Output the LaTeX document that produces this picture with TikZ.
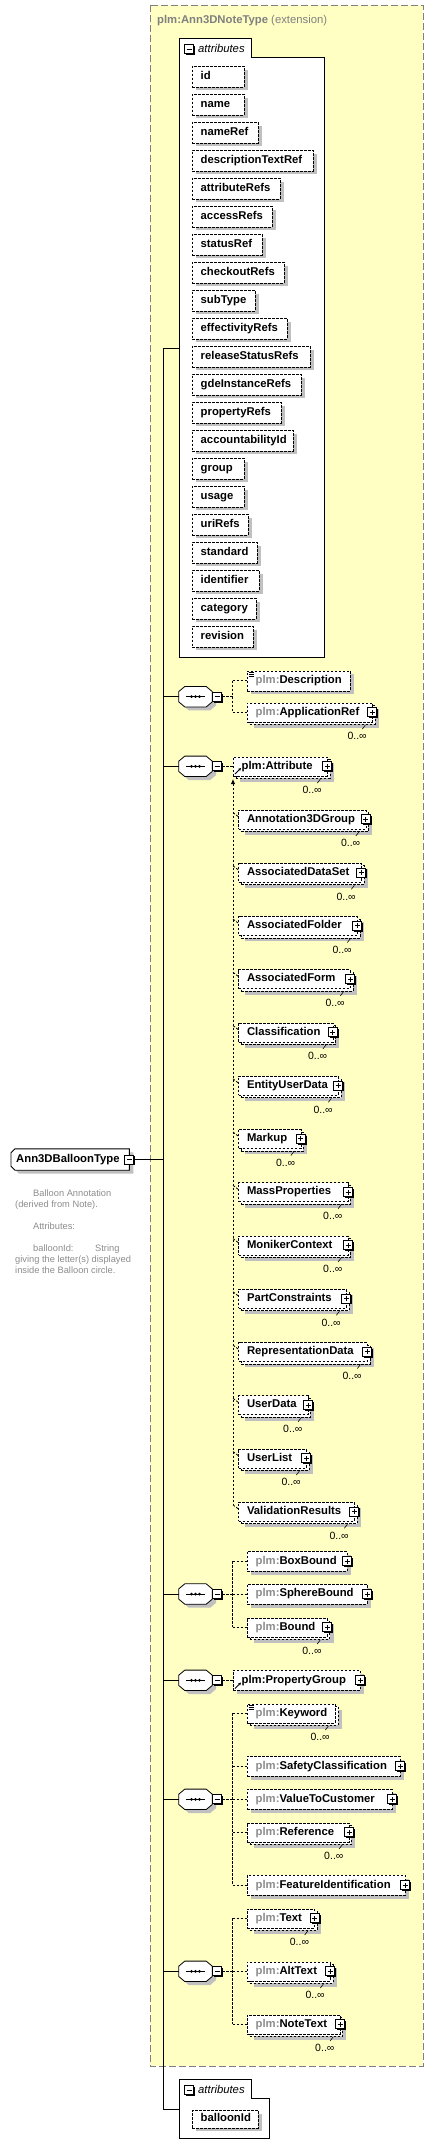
\documentclass[tikz,border=0pt]{standalone}
\usepackage{fontspec}
\setmainfont{Liberation Sans}
\usetikzlibrary{shadows,calc,backgrounds,arrows.meta}

\definecolor{extfill}{HTML}{FFFFC4}
\definecolor{extline}{HTML}{808080}
\definecolor{shadowgray}{HTML}{C0C0C0}
\definecolor{prefixgray}{HTML}{8C8C8C}
\definecolor{docgray}{HTML}{8C8C8C}

\newcommand{\boxfont}{\fontsize{11.3}{13}\selectfont\bfseries}
\newcommand{\pfx}[1]{{\color{prefixgray}#1}}

\tikzset{
  boxshadow/.style={general shadow={shadow xshift=4pt,shadow yshift=-3.5pt,fill=shadowgray,draw=none}},
  dashes/.style={dash pattern=on 2.5pt off 1.5pt},
  span/.code={\pgfmathsetmacro\spanw{#1-17}\tikzset{text width=\spanw pt}},
  attritem/.style={draw,dashes,fill=white,boxshadow,anchor=north west,align=left,font=\boxfont,
    inner xsep=8.5pt,inner ysep=0pt,minimum height=20.5pt,text height=8pt,text depth=2.5pt},
  elem/.style={draw,dashes,fill=white,anchor=west,align=left,font=\boxfont,
    inner xsep=8.5pt,inner ysep=0pt,text height=8pt,text depth=2.5pt},
  single/.style={elem,minimum height=20pt,boxshadow},
  multi/.style={elem,minimum height=19pt,
    general shadow={shadow xshift=6.5pt,shadow yshift=-6pt,fill=shadowgray,draw=none},
    general shadow={shadow xshift=2.5pt,shadow yshift=-2.5pt,fill=white,draw=black,dashes}},
  iconbox/.style={draw,fill=white,line width=0.9pt,minimum size=9pt,inner sep=0pt,
    general shadow={shadow xshift=1.3pt,shadow yshift=-1.3pt,fill=black,draw=none}},
  minusicon/.style={iconbox,path picture={
    \draw[line width=0.9pt] ([xshift=2pt]path picture bounding box.west) -- ([xshift=-2pt]path picture bounding box.east);}},
  plusicon/.style={iconbox,path picture={
    \draw[line width=0.9pt] ([xshift=2pt]path picture bounding box.west) -- ([xshift=-2pt]path picture bounding box.east)
      ([yshift=-2pt]path picture bounding box.north) -- ([yshift=2pt]path picture bounding box.south);}},
  occ/.style={font=\fontsize{10.5}{12}\selectfont,inner sep=0pt,anchor=east},
  occtick/.style={line width=0.6pt},
  link/.style={dashes,line width=0.8pt},
  trunk/.style={line width=0.9pt},
  seqnode/.style={minimum width=33pt,minimum height=20pt,inner sep=0pt},
  seqframe/.style={draw,fill=white,line width=0.8pt,boxshadow},
  typebox/.style={anchor=west,align=left,font=\boxfont,inner xsep=5pt,inner ysep=0pt,
    text width=108pt,minimum height=21pt,text height=8pt,text depth=2.5pt},
  typeframe/.style={draw,fill=white,line width=0.9pt,boxshadow},
  extbox/.style={fill=extfill,draw=extline,dash pattern=on 7pt off 3pt,line width=1pt},
  exttitle/.style={font=\boxfont,text=extline,inner sep=0pt,anchor=base west},
  tabframe/.style={draw,fill=white,line width=1pt},
  tabtext/.style={font=\fontsize{11.3}{13}\selectfont\itshape,inner sep=0pt,anchor=west},
  doctext/.style={font=\fontsize{9.3}{11}\selectfont,text=docgray,align=left,inner sep=0pt,anchor=north west}
}

\begin{document}
\begin{tikzpicture}[x=1pt,y=-1pt]
\useasboundingbox (0,0) rectangle (433,2156);

% extension frame
\draw[extbox] (150,5) rectangle (423,2066);
\node[exttitle] (exttitle) at (157,23) {plm:Ann3DNoteType \mdseries(extension)};

% attribute groups
\draw[tabframe] (179,657) -- (179,38) -- (251,38) -- (251,57) -- (324,57) -- (324,657) -- cycle;
\node[minusicon] (tabA-m) at (189,49) {};
\node[tabtext] (tabA) at (198,48.5) {attributes};
\foreach \nm/\w [count=\k from 0] in {id/52,name/52,nameRef/66,descriptionTextRef/121,attributeRefs/88,
    accessRefs/80,statusRef/70,checkoutRefs/92,subType/63,effectivityRefs/95,releaseStatusRefs/118,
    gdeInstanceRefs/109,propertyRefs/89,accountabilityId/101,group/52,usage/52,uriRefs/56,
    standard/65,identifier/67,category/64,revision/61}
  \node[attritem,span=\w] (at-\nm) at (192,{66+28*\k}) {\nm};

\draw[tabframe] (179,2138.3) -- (179,2079.3) -- (251.3,2079.3) -- (251.3,2098.7) -- (269.7,2098.7) -- (269.7,2138.3) -- cycle;
\node[minusicon] (tabB-m) at (189,2090) {};
\node[tabtext] (tabB) at (198,2089.5) {attributes};
\node[attritem,span=66,minimum height=17.4pt] (at-balloonId) at (192,2110.3) {balloonId};

% main type
\node[typebox] (balloon) at (11,1159.5) {Ann3DBalloonType};
\begin{scope}[on background layer]
  \draw[typeframe] ([xshift=4pt]balloon.north west) -- (balloon.north east) -- (balloon.south east)
    -- ([xshift=4pt]balloon.south west) -- ([yshift=4pt]balloon.south west) -- ([yshift=-4pt]balloon.north west) -- cycle;
\end{scope}
\node[minusicon] (balloon-m) at (balloon.east) {};
\node[doctext] (balloondoc) at (15,1189.2) {\hspace*{18pt}Balloon Annotation\\(derived from Note).\\[11pt]
  \hspace*{18pt}Attributes:\\[11pt]
  \hspace*{18pt}\makebox[62pt][l]{balloonId:}String\\giving the letter(s) displayed\\inside the Balloon circle.};

\coordinate (trunktop) at (163,348);
\coordinate (trunkbot) at (163,2109);
\coordinate (attrsA) at (179,348);
\coordinate (attrsB) at (179,2109);
\draw[trunk] (attrsA) -- (trunktop) -- (trunkbot) -- (attrsB);
\draw[trunk] (balloon-m.east) -- (balloon-m.east -| trunktop);

% sequences
\node[seqnode] (seqA) at (195.5,696.7) {};
\node[seqnode] (seqB) at (195.5,766.3) {};
\node[seqnode] (seqC) at (195.5,1594) {};
\node[seqnode] (seqD) at (195.5,1680.3) {};
\node[seqnode] (seqE) at (195.5,1799.3) {};
\node[seqnode] (seqF) at (195.5,1971.3) {};
\foreach \s in {seqA,seqB,seqC,seqD,seqE,seqF}{
  \draw[seqframe] ([xshift=6pt]\s.north west) -- ([xshift=-6pt]\s.north east) -- ([yshift=-5pt]\s.north east)
    -- ([yshift=5pt]\s.south east) -- ([xshift=-6pt]\s.south east) -- ([xshift=6pt]\s.south west)
    -- ([yshift=5pt]\s.south west) -- ([yshift=-5pt]\s.north west) -- cycle;
  \draw[line width=1pt] ([xshift=7pt]\s.west) -- ([xshift=-7pt]\s.east);
  \foreach \d in {-4,0,4} \fill ([xshift=\d pt]\s.center) circle (1.5pt);
  \node[minusicon,anchor=west] (\s-m) at (\s.east) {};
  \draw[trunk] (\s.west -| trunktop) -- (\s.west);
}

% elements
\node[single,span=350-247] (desc) at (247,680.7) {\pfx{plm:}Description};
\node[multi,span=372-247] (appref) at (247,712.3) {\pfx{plm:}ApplicationRef};
\node[multi,span=327-233] (attr) at (233,766.3) {plm:Attribute};
\node[single,span=346.7-247] (boxb) at (247,1561.3) {\pfx{plm:}BoxBound};
\node[single,span=366.7-247] (sphb) at (247,1594) {\pfx{plm:}SphereBound};
\node[multi,span=326.8-247] (bnd) at (247,1627.3) {\pfx{plm:}Bound};
\node[single,span=360-233] (pgrp) at (233,1680.3) {plm:PropertyGroup};
\node[multi,span=335-247] (kw) at (247,1713.3) {\pfx{plm:}Keyword};
\node[single,span=399.7-247] (safety) at (247,1766.3) {\pfx{plm:}SafetyClassification};
\node[single,span=391.7-247] (value) at (247,1799.3) {\pfx{plm:}ValueToCustomer};
\node[multi,span=348.7-247] (refr) at (247,1832.3) {\pfx{plm:}Reference};
\node[single,span=405-247] (feat) at (247,1885.3) {\pfx{plm:}FeatureIdentification};
\node[multi,span=314.3-247] (txt) at (247,1918.3) {\pfx{plm:}Text};
\node[multi,span=330-247] (alt) at (247,1971.3) {\pfx{plm:}AltText};
\node[multi,span=339.7-247] (note) at (247,2024.3) {\pfx{plm:}NoteText};

\foreach \e in {appref,attr,boxb,sphb,bnd,pgrp,safety,value,refr,feat,txt,alt,note}
  \node[plusicon] (\e-p) at (\e.east) {};
\foreach \e in {appref,attr,bnd,kw,refr,txt,alt,note}{
  \node[occ] (\e-o) at ($(\e.east)+(-5.5,24)$) {0..∞};
  \draw[occtick] ($(\e.south east)+(-7,3)$) -- ++(-3,4);
}
\foreach \e in {desc,kw}
  \foreach \d in {1.5,3.5,5.5} \draw[line width=0.7pt] ($(\e.north west)+(1.5,\d)$) -- ++(5,0);
\foreach \e in {attr,pgrp}
  \draw[line width=0.9pt,-{Stealth[length=3pt,width=3pt]}] ($(\e.south west)+(2,-2)$) -- ++(6,-6);

\foreach \s/\a/\b/\kids in {seqA/desc/appref/{desc,appref},seqC/boxb/bnd/{boxb,sphb,bnd},
    seqE/kw/feat/{kw,safety,value,refr,feat},seqF/txt/note/{txt,alt,note}}{
  \coordinate (\s-sp) at ($(\s-m.east)+(10.5,0)$);
  \draw[link] (\s-m.east) -- (\s-sp);
  \draw[link] (\s-sp |- \a.west) -- (\s-sp |- \b.west);
  \foreach \c in \kids \draw[link] (\s-sp |- \c.west) -- (\c.west);
}
\draw[link] (seqB-m.east) -- (attr.west);
\draw[link] (seqD-m.east) -- (pgrp.west);

% substitution group of plm:Attribute
\coordinate (subtop) at ([yshift=-3pt]attr.south west);
\foreach \m/\r [count=\k from 0] in {Annotation3DGroup/365.5,AssociatedDataSet/361,AssociatedFolder/357,
    AssociatedForm/350,Classification/332.5,EntityUserData/338,Markup/300.5,MassProperties/347.7,
    MonikerContext/347.7,PartConstraints/346,RepresentationData/367,UserData/307.7,UserList/306,
    ValidationResults/354}{
  \node[multi,span=\r-238.3] (\m) at (238.3,{819.3+53.25*\k}) {\m};
  \node[plusicon] (\m-p) at (\m.east) {};
  \node[occ] (\m-o) at ($(\m.east)+(-5.5,24)$) {0..∞};
  \draw[occtick] ($(\m.south east)+(-7,3)$) -- ++(-3,4);
  \draw[link] ($(\m.north west -| subtop)+(0,3)$) -- ($(\m.north west)+(0,7)$);
}
\draw[link,{Latex[length=5pt,width=4.5pt]}-] (subtop) -- ($(ValidationResults.north west -| subtop)+(0,3)$);
\end{tikzpicture}
\end{document}
